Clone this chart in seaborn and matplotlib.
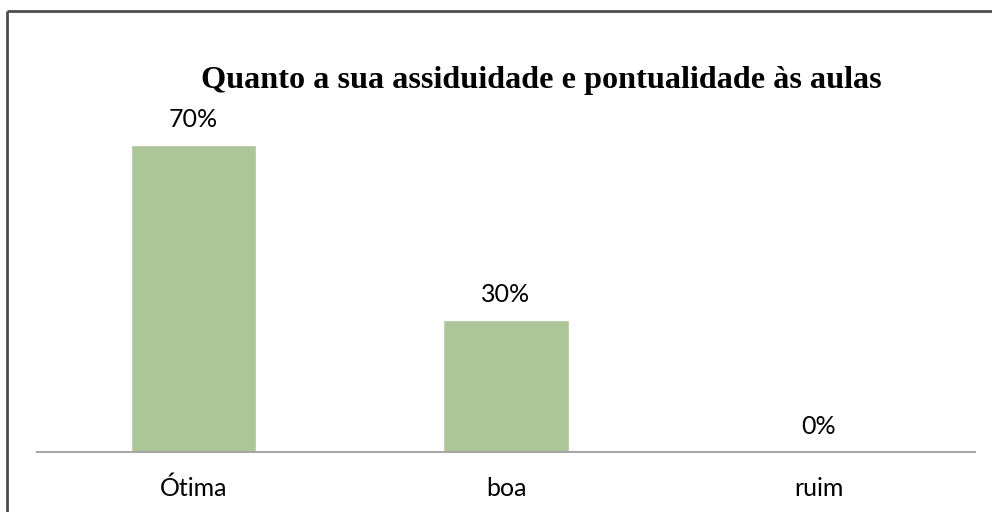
import matplotlib
matplotlib.use("Agg")
import matplotlib.pyplot as plt
import seaborn as sns
import pandas as pd
from matplotlib.lines import Line2D

# data
categorias = ["Ótima", "boa", "ruim"]
percentuais = [70, 30, 0]
titulo = "Quanto a sua assiduidade e pontualidade às aulas"

df = pd.DataFrame({"categoria": categorias, "valor": percentuais})

sns.set_style("white")
plt.rcParams["font.family"] = ["Lato", "DejaVu Sans"]
plt.rcParams["text.color"] = "black"

fig = plt.figure(figsize=(9.92, 5.12), dpi=100)
ax = fig.add_axes([0.0373, 0.1172, 0.9456, 0.6855])

sns.barplot(data=df, x="categoria", y="valor", color="#adc698", saturation=1,
            width=0.4, ax=ax)

ax.set_ylim(0, 80)
ax.set_xlim(-0.5, 2.5)
ax.set_xlabel("")
ax.set_ylabel("")
ax.set_yticks([])
for s in ["top", "right", "left"]:
    ax.spines[s].set_visible(False)
ax.spines["bottom"].set_color("#a6a6a6")
ax.spines["bottom"].set_linewidth(1.5)
ax.tick_params(axis="x", length=0, pad=18, labelsize=18, labelcolor="black")

# value labels above bars
for i, v in enumerate(percentuais):
    ax.annotate(f"{v}%", (i, v), xytext=(0, 10), textcoords="offset points",
                ha="center", va="bottom", fontsize=18, color="black")

fig.text(0.546, 0.843, titulo, ha="center", va="center", color="black",
         fontsize=23.2, fontweight="bold", family="Liberation Serif")

# chart border: only top and left edges are inside the image
fig.add_artist(Line2D([0.0075, 1.05], [0.979, 0.979], transform=fig.transFigure,
                      color="#4d4d4d", linewidth=2, solid_capstyle="butt"))
fig.add_artist(Line2D([0.0075, 0.0075], [-0.05, 0.979], transform=fig.transFigure,
                      color="#4d4d4d", linewidth=2, solid_capstyle="butt"))

fig.savefig("out.png", dpi=100, facecolor="white", edgecolor="white")
